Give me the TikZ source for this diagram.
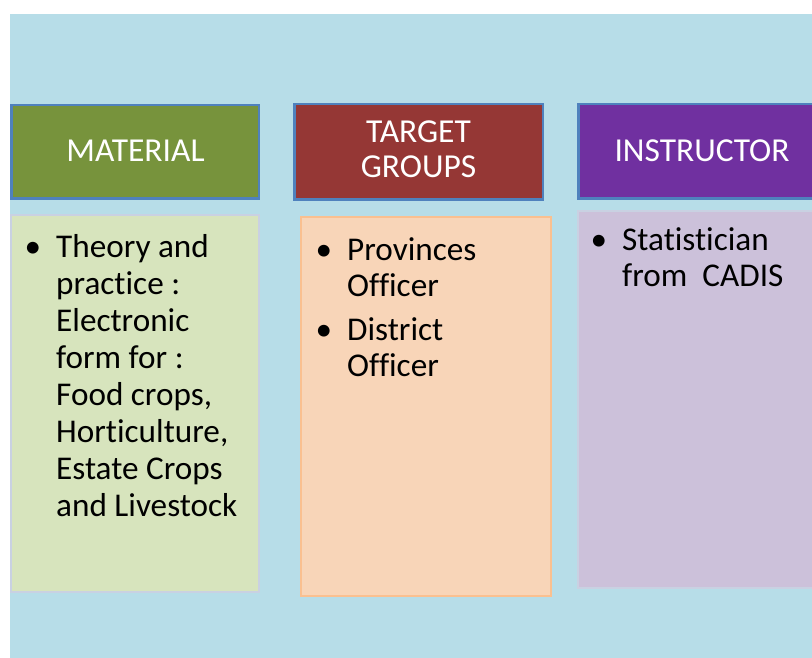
\documentclass[tikz,border=0pt]{standalone}
\usepackage{fontspec}
\setmainfont{Carlito}[Ligatures=NoCommon]
\definecolor{bgblue}{HTML}{B7DDE8}
\definecolor{hdrborder}{HTML}{4F81BD}
\definecolor{hgreen}{HTML}{77933C}
\definecolor{hred}{HTML}{953735}
\definecolor{hpurple}{HTML}{7030A0}
\definecolor{cgreen}{HTML}{D7E4BD}
\definecolor{corange}{HTML}{F8D5B8}
\definecolor{corangeb}{HTML}{FAC090}
\definecolor{cpurple}{HTML}{CCC1DA}
\definecolor{cgrayb}{HTML}{C9D1E2}
\tikzset{
  hdrbox/.style={draw=hdrborder, line width=2.5pt},
  cntbox/.style={line width=2pt},
  hdrtext/.style={inner sep=0pt, anchor=base, text=white, font=\fontsize{33.5}{37}\selectfont},
  bodytext/.style={inner sep=0pt, anchor=base west, text=black, font=\fontsize{33.2}{37}\selectfont},
  bullettext/.style={inner sep=0pt, anchor=base, text=black, font=\fontsize{33.2}{37}\selectfont},
}
\begin{document}
\begin{tikzpicture}[x=1pt,y=-1pt]
\useasboundingbox (0,0) rectangle (812,658);
\fill[white] (0,0) rectangle (812,658);
\fill[bgblue] (10,14) rectangle (830,670);
% headers
\draw[hdrbox, fill=hgreen] (11.25,105.25) rectangle (258.75,198.75);
\draw[hdrbox, fill=hred] (294.25,104.25) rectangle (542.75,199.75);
\draw[hdrbox, fill=hpurple] (578.25,104.25) rectangle (826,198.75);
\node[hdrtext] (hmat) at (135.5,162) {MATERIAL};
\node[hdrtext] (htg1) at (418.5,143) {TARGET};
\node[hdrtext] (htg2) at (418.5,178) {GROUPS};
\node[hdrtext] (hins) at (702,162) {INSTRUCTOR};
% content boxes
\draw[cntbox, draw=cgrayb, fill=cgreen] (11,215) rectangle (259,592);
\draw[cntbox, draw=corangeb, fill=corange] (301,217) rectangle (551,596);
\draw[cntbox, draw=cgrayb, fill=cpurple] (578,211) rectangle (830,588);
% box 1 text
\node[bullettext] (b1) at (33,257) {•};
\foreach \t [count=\i] in {Theory and,practice :,Electronic,form for :,{Food crops,},{Horticulture,},Estate Crops,and Livestock}
  \node[bodytext] (m\i) at (56,{257+37*(\i-1)}) {\t};
% box 2 text
\node[bullettext] (b2) at (324,260) {•};
\node[bodytext] (t1) at (347,260) {Provinces};
\node[bodytext] (t2) at (347,296) {Officer};
\node[bullettext] (b3) at (324,340) {•};
\node[bodytext] (t3) at (347,340) {District};
\node[bodytext] (t4) at (347,376) {Officer};
% box 3 text
\node[bullettext] (b4) at (599,251) {•};
\node[bodytext] (s1) at (622,251) {Statistician};
\node[bodytext] (s2) at (622,287) {from\ \ CADIS};
\end{tikzpicture}
\end{document}
